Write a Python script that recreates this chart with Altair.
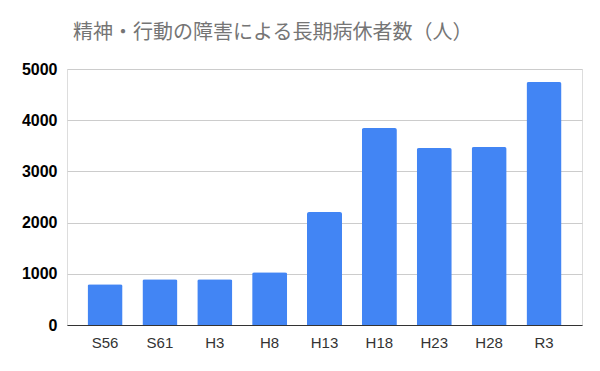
import altair as alt
import pandas as pd

categories = ["S56", "S61", "H3", "H8", "H13", "H18", "H23", "H28", "R3"]
values = [797, 893, 893, 1030, 2205, 3846, 3455, 3475, 4746]

df = pd.DataFrame({"period": categories, "count": values})

chart = alt.Chart(df).mark_bar(
    color="#4285F4", cornerRadiusTopLeft=2, cornerRadiusTopRight=2
).encode(
    x=alt.X("period:N", sort=categories, title=None,
            scale=alt.Scale(paddingInner=0.362, paddingOuter=0.374),
            axis=alt.Axis(labelAngle=0, labelFontSize=15, labelColor="#333333",
                          labelFontWeight=400,
                          labelFont="Liberation Sans", ticks=False, labelPadding=10,
                          domainColor="#333333", domainWidth=1.2, grid=False)),
    y=alt.Y("count:Q", title=None,
            scale=alt.Scale(domain=[0, 5000]),
            axis=alt.Axis(values=[0, 1000, 2000, 3000, 4000, 5000], format="d",
                          labelFontSize=16,
                          labelFontWeight="bold", labelColor="#000000",
                          labelFont="Liberation Sans", ticks=False, domain=False,
                          labelPadding=10, gridColor="#cccccc", gridWidth=1)),
).properties(
    width=515,
    height=256,
    title=alt.TitleParams(
        "精神・行動の障害による長期病休者数（人）",
        anchor="start", frame="group", font="Noto Sans CJK JP", fontSize=20,
        fontWeight="normal", color="#757575", offset=18, dx=6,
    ),
    autosize=alt.AutoSizeParams(type="none"),
    padding={"left": 67, "top": 69, "right": 18, "bottom": 46},
).configure_view(stroke=None).configure(background="white")

chart.save("out.html", embed_options={"renderer": "svg", "actions": False})
